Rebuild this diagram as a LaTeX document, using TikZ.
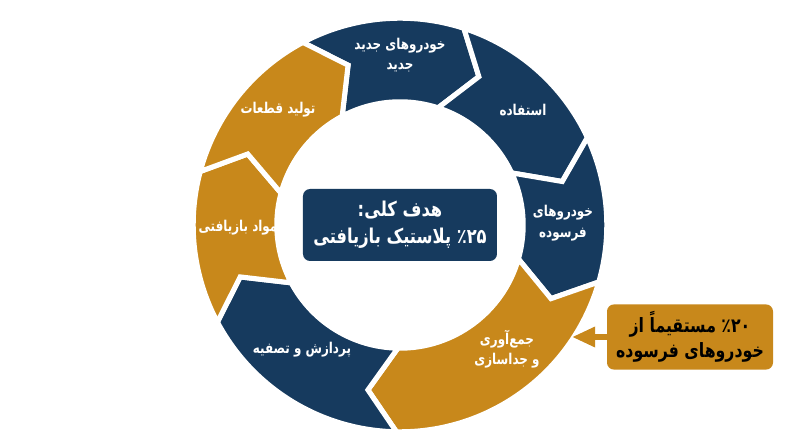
\documentclass[tikz,border=0pt]{standalone}
\usepackage{fontspec}
\TeXXeTstate=1
\newfontfamily\fa[Script=Arabic, FakeStretch=0.8]{DejaVu Sans}
\usepackage{tikz}
\usetikzlibrary{positioning, arrows.meta, shapes}
\definecolor{navy}{HTML}{163A5E}
\definecolor{gold}{HTML}{C8881B}

\begin{document}
\begin{tikzpicture}[
    seg/.style={draw=white, line width=3.6pt, line join=miter},
    seglabel/.style={text=white, align=center, font=\fa\bfseries\fontsize{10.6}{14.5}\selectfont},
    goalbox/.style={fill=navy, rounded corners=5pt, minimum width=4.85cm, minimum height=1.8cm, text=white, align=center, font=\fa\bfseries\fontsize{14.5}{19}\selectfont},
    notebox/.style={fill=gold, rounded corners=5pt, minimum width=4.15cm, minimum height=1.63cm, text=black, align=center, font=\fa\bfseries\fontsize{14}{18}\selectfont},
    callout/.style={draw=gold, line width=4.5pt, -{Triangle[length=0.58cm, width=0.48cm]}}
]
    % Page
    \fill[white] (-10,-5.55) rectangle (10,5.625);

    % Ring of arrows
    \foreach \a/\b/\c in {118/72/navy, 72/25/navy, 25/-16/navy, -16/-91/gold, -91/-152/navy, 208/165/gold, 165/118/gold}
        \filldraw[seg, fill=\c] (\a:5.17cm) arc[start angle=\a, end angle=\b, radius=5.17cm]
            -- ({\b-10}:4.2cm) -- (\b:3.08cm) arc[start angle=\b, end angle=\a, radius=3.08cm]
            -- ({\a-10}:4.2cm) -- cycle;

    % Ring labels
    \node[seglabel] (newCars) at (0,4.25) {\beginR خودروهای جدید\endR\\\beginR جدید\endR};
    \node[seglabel] (use) at (3.075,2.875) {\beginR استفاده\endR};
    \node[seglabel] (oldCars) at (4.075,0.05) {\beginR خودروهای\endR\\\beginR فرسوده\endR};
    \node[seglabel] (collect) at (2.675,-3.1) {\beginR جمع‌آوری\endR\\\beginR و جداسازی\endR};
    \node[seglabel] (process) at (-2.45,-3.125) {\beginR پردازش و تصفیه\endR};
    \node[seglabel] (material) at (-4.05,-0.075) {\beginR مواد بازیافتی\endR};
    \node[seglabel] (parts) at (-3.05,2.875) {\beginR تولید قطعات\endR};

    % Goal
    \node[goalbox] (goal) at (0,0) {\beginR هدف کلی:\endR\\\beginR ٪۲۵ پلاستیک بازیافتی\endR};

    % Note
    \node[notebox] (note) at (7.25,-2.8) {\beginR ٪۲۰ مستقیماً از\endR\\\beginR خودروهای فرسوده\endR};
    \coordinate (ringEdge) at (4.3,-2.8);
    \draw[callout] (note.west) -- (ringEdge);
\end{tikzpicture}
\end{document}
